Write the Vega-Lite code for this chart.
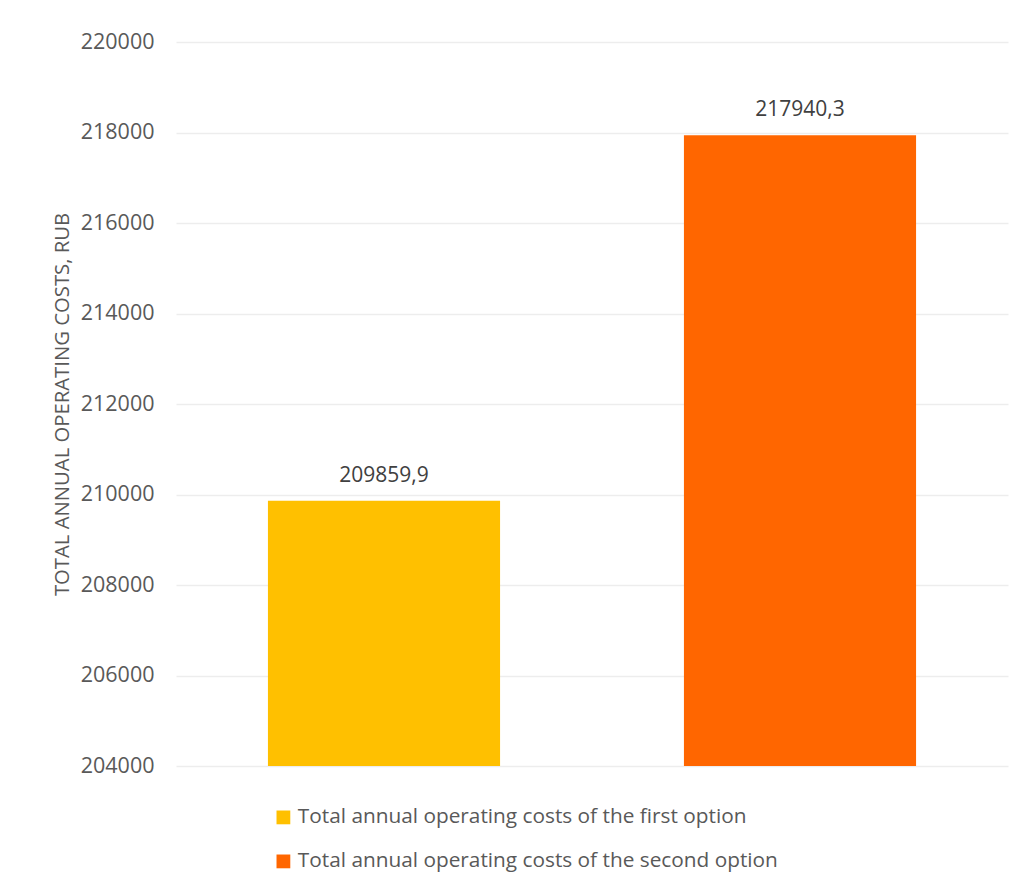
{
  "$schema": "https://vega.github.io/schema/vega-lite/v6.json",
  "width": 832,
  "height": 724,
  "autosize": "none",
  "padding": {"left": 176, "top": 42, "right": 16, "bottom": 122},
  "background": "white",
  "config": {
    "view": {"stroke": null},
    "font": "Open Sans",
    "locale": {"number": {"decimal": ",", "thousands": "", "grouping": [3], "currency": ["", ""]}}
  },
  "data": {
    "values": [
      {"option": "Total annual operating costs of the first option", "cost": 209859.9},
      {"option": "Total annual operating costs of the second option", "cost": 217940.3}
    ]
  },
  "encoding": {
    "x": {
      "field": "option", "type": "nominal", "sort": null,
      "scale": {"paddingInner": 0.442, "paddingOuter": 0.221},
      "axis": null
    }
  },
  "layer": [
    {
      "mark": {"type": "bar"},
      "encoding": {
        "y": {
          "field": "cost", "type": "quantitative",
          "scale": {"domain": [204000, 220000], "zero": false, "nice": false},
          "axis": {
            "values": [204000, 206000, 208000, 210000, 212000, 214000, 216000, 218000, 220000],
            "format": "d",
            "title": "TOTAL ANNUAL OPERATING COSTS, RUB",
            "titleFont": "Open Sans", "titleFontSize": 20.3, "titleFontWeight": "normal", "titleColor": "#595959",
            "titlePadding": 8,
            "labelFont": "Open Sans", "labelFontSize": 21.5, "labelColor": "#595959", "labelPadding": 22,
            "domain": false, "ticks": false, "tickSize": 0,
            "gridColor": "#ededed", "gridWidth": 1.3
          }
        },
        "y2": {"datum": 204000},
        "color": {
          "field": "option", "type": "nominal",
          "scale": {"range": ["#FFC000", "#FF6600"]},
          "legend": {
            "orient": "none", "legendX": 97, "legendY": 765,
            "title": null, "direction": "vertical",
            "symbolType": "square", "symbolSize": 190, "symbolStrokeWidth": 0,
            "labelFont": "Open Sans", "labelFontSize": 20.8, "labelColor": "#595959",
            "labelOffset": 4, "rowPadding": 22, "labelLimit": 700
          }
        }
      }
    },
    {
      "mark": {"type": "text", "baseline": "bottom", "dy": -15, "fontSize": 21, "font": "Open Sans", "color": "#404040"},
      "encoding": {
        "y": {"field": "cost", "type": "quantitative"},
        "text": {"field": "cost", "type": "quantitative", "format": ".1f"}
      }
    }
  ]
}
